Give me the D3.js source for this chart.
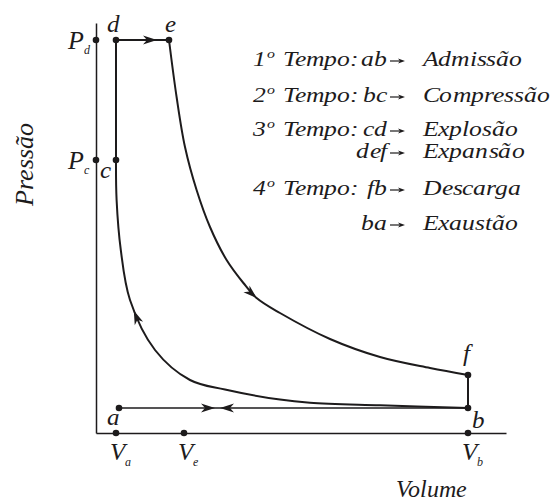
<!DOCTYPE html>
<html><head><meta charset="utf-8">
<script src="https://cdn.jsdelivr.net/npm/d3@7"></script>
<style>
@font-face{font-family:"ChartSerif";font-style:italic;font-weight:400;
  src:local("Liberation Serif Italic"),local("LiberationSerif-Italic"),local("Tinos Italic"),local("Times New Roman Italic");}
@font-face{font-family:"ChartSerif";font-style:normal;font-weight:400;
  src:local("Liberation Serif"),local("LiberationSerif"),local("Tinos"),local("Times New Roman");}
body{margin:0;background:#fff}
svg text, svg tspan{font-family:"ChartSerif","Liberation Serif","Times New Roman",serif !important;font-style:italic !important}
</style>
</head><body>
<svg id="fig" width="555" height="502"></svg>
<script>
// ---- data (volume in arbitrary units, pressure in arbitrary units) ----
const stateNames = ["a", "b", "c", "d", "e", "f"];
const stateVolume = [1.15, 18.6, 1.0, 1.0, 3.65, 18.6];
const statePressure = [2.5, 2.5, 27.3, 39.3, 39.3, 5.8];

// compression b -> c
const compressionVolume = [18.6, 14.2, 10.7, 9.2, 6.45, 4.7, 2.95, 1.7, 1.24, 1.03, 1.0];
const compressionPressure = [2.5, 2.77, 3.03, 3.34, 4.35, 5.3, 8.3, 13.3, 18.3, 23.3, 27.3];

// expansion e -> f
const expansionVolume = [3.65, 4.03, 4.45, 5.03, 5.7, 6.53, 7.37, 8.03, 9.2, 11.7, 14.2, 16.7, 18.6];
const expansionPressure = [39.3, 33.6, 28.6, 24.3, 20.6, 17.3, 15.0, 13.5, 12.0, 9.4, 7.6, 6.5, 5.8];

const volumeTickValues = [1.0, 4.4, 18.6];
const volumeTickSubs = ["a", "e", "b"];
const pressureTickValues = [39.3, 27.3];
const pressureTickSubs = ["d", "c"];

const strokeNumbers = ["1", "2", "3", "", "4", ""];
const strokeSteps = ["ab", "bc", "cd", "def", "fb", "ba"];
const strokeNames = ["Admissão", "Compressão", "Explosão", "Expansão", "Descarga", "Exaustão"];

const xLabel = "Volume";
const yLabel = "Pressão";

// ---- layout ----
const ink = "#1d1b1c";
const serifList = '"ChartSerif", "Liberation Serif", "Times New Roman", serif';
const svg = d3.select("#fig");
const x = d3.scaleLinear().domain([0, 20.5]).range([96, 506]);
const y = d3.scaleLinear().domain([0, 41]).range([433, 23]);

const st = {};
stateNames.forEach((n, i) => st[n] = [stateVolume[i], statePressure[i]]);

// axes
svg.append("g").attr("transform", `translate(0,${y(0)})`)
  .call(d3.axisBottom(x).tickValues([]).tickSizeOuter(0));
svg.append("g").attr("transform", `translate(${x(0)},0)`)
  .call(d3.axisLeft(y).tickValues([]).tickSizeOuter(0));
svg.selectAll(".domain").attr("stroke", ink).attr("stroke-width", 1.5);

const line = d3.line().x(d => x(d[0])).y(d => y(d[1]));
const curve = d3.line().x(d => x(d[0])).y(d => y(d[1])).curve(d3.curveCatmullRom.alpha(0.5));

const g = svg.append("g").attr("fill", "none").attr("stroke", ink);

// straight segments
g.append("path").attr("d", line([st.a, st.b])).attr("stroke-width", 1.5);
g.append("path").attr("d", line([st.c, st.d])).attr("stroke-width", 2);
g.append("path").attr("d", line([st.d, st.e])).attr("stroke-width", 2);
g.append("path").attr("d", line([st.f, st.b])).attr("stroke-width", 2);

const compPath = g.append("path")
  .attr("d", curve(compressionVolume.map((v, i) => [v, compressionPressure[i]])))
  .attr("stroke-width", 2);
const expPath = g.append("path")
  .attr("d", curve(expansionVolume.map((v, i) => [v, expansionPressure[i]])))
  .attr("stroke-width", 2);

// arrow heads
function head(px, py, angle, len, hw, notch) {
  svg.append("path")
    .attr("d", `M0,0 L${-len},${-hw} L${-notch},0 L${-len},${hw} Z`)
    .attr("transform", `translate(${px},${py}) rotate(${angle})`)
    .attr("fill", ink).attr("stroke", "none");
}
function headOnPath(node, tx, ty) {
  const L = node.getTotalLength();
  let best = 0, bd = Infinity;
  for (let s = 0; s <= L; s += 0.5) {
    const p = node.getPointAtLength(s);
    const d = (p.x - tx) ** 2 + (p.y - ty) ** 2;
    if (d < bd) { bd = d; best = s; }
  }
  const p = node.getPointAtLength(best), q = node.getPointAtLength(Math.max(0, best - 3));
  head(p.x, p.y, Math.atan2(p.y - q.y, p.x - q.x) * 180 / Math.PI, 14, 4.5, 10);
}
head(x(3.05), y(st.d[1]), 0, 14, 4.5, 10);
head(x(5.95), y(st.a[1]), 0, 14, 4.5, 10);
head(x(6.2), y(st.a[1]), 180, 14, 4.5, 10);
headOnPath(expPath.node(), x(8.05), y(13.5));
headOnPath(compPath.node(), x(1.95), y(12.3));

// dots
const dots = stateNames.map(n => [x(st[n][0]), y(st[n][1])])
  .concat(volumeTickValues.map(v => [x(v), y(0)]))
  .concat(pressureTickValues.map(p => [x(0), y(p)]));
svg.append("g").selectAll("circle").data(dots).join("circle")
  .attr("cx", d => d[0]).attr("cy", d => d[1]).attr("r", 3.3).attr("fill", ink);

// text helper: serif italic font on each node
function applyFont(node) {
  node.setAttribute("font-family", serifList);
  node.setAttribute("font-style", "italic");
  node.style.setProperty("font-family", serifList, "important");
  node.style.setProperty("font-style", "italic", "important");
}
function txt(sel) {
  sel.attr("fill", ink).each(function () { applyFont(this); });
}

// state labels
const labelOffset = { a: [-6, 17, "middle"], b: [4, 20, "start"], c: [-16, 18, "start"],
  d: [-3, -8, "middle"], e: [1, -8, "middle"], f: [-2, -14, "middle"] };
svg.append("g").selectAll("text").data(stateNames).join("text")
  .call(txt)
  .attr("x", n => x(st[n][0]) + labelOffset[n][0])
  .attr("y", n => y(st[n][1]) + labelOffset[n][1])
  .attr("text-anchor", n => labelOffset[n][2])
  .attr("font-size", 25)
  .text(n => n);

// volume tick labels
volumeTickValues.forEach((v, i) => {
  const t = svg.append("text").call(txt).attr("x", x(v) - 6).attr("y", y(0) + 27).attr("font-size", 25);
  t.append("tspan").text("V");
  t.append("tspan").attr("font-size", 12).attr("dy", 6).text(volumeTickSubs[i]);
});
// pressure tick labels
pressureTickValues.forEach((p, i) => {
  const t = svg.append("text").call(txt).attr("x", x(0) - 28).attr("y", y(p) + 9).attr("font-size", 26);
  t.append("tspan").text("P");
  t.append("tspan").attr("font-size", 12).attr("dy", 5).text(pressureTickSubs[i]);
});

// axis titles
svg.append("text").call(txt).attr("x", 431).attr("y", 497).attr("text-anchor", "middle")
  .attr("font-size", 24).text(xLabel);
svg.append("text").call(txt).attr("transform", "translate(33,164) rotate(-90)")
  .attr("text-anchor", "middle").attr("font-size", 26).text(yLabel);

// legend
const rowBase = [66, 102, 136, 158, 195, 230];
const stretch = 1.22, fs = 21;
strokeNames.forEach((name, i) => {
  const yb = rowBase[i];
  if (strokeNumbers[i]) {
    const t = svg.append("text").call(txt).attr("transform", `translate(253,${yb}) scale(${stretch},1)`)
      .attr("font-size", fs);
    t.append("tspan").text(strokeNumbers[i]);
    t.append("tspan").attr("font-size", 13).attr("dy", -8).attr("dx", 1).text("o");
    t.append("tspan").attr("dy", 8).text(" Tempo:");
  }
  svg.append("text").call(txt).attr("transform", `translate(387,${yb}) scale(${stretch},1)`)
    .attr("text-anchor", "end").attr("font-size", fs).text(strokeSteps[i]);
  svg.append("line").attr("x1", 390).attr("x2", 400).attr("y1", yb - 5).attr("y2", yb - 5)
    .attr("stroke", ink).attr("stroke-width", 1.2);
  head(405, yb - 5, 0, 7, 2.6, 5);
  svg.append("text").call(txt).attr("transform", `translate(423,${yb}) scale(${stretch},1)`)
    .attr("font-size", fs).text(name);
});

// re-apply the font once the page has settled
const reapply = () => document.querySelectorAll("#fig text, #fig tspan").forEach(applyFont);
requestAnimationFrame(reapply);
setTimeout(reapply, 0);
window.addEventListener("load", reapply);
</script>
</body></html>
